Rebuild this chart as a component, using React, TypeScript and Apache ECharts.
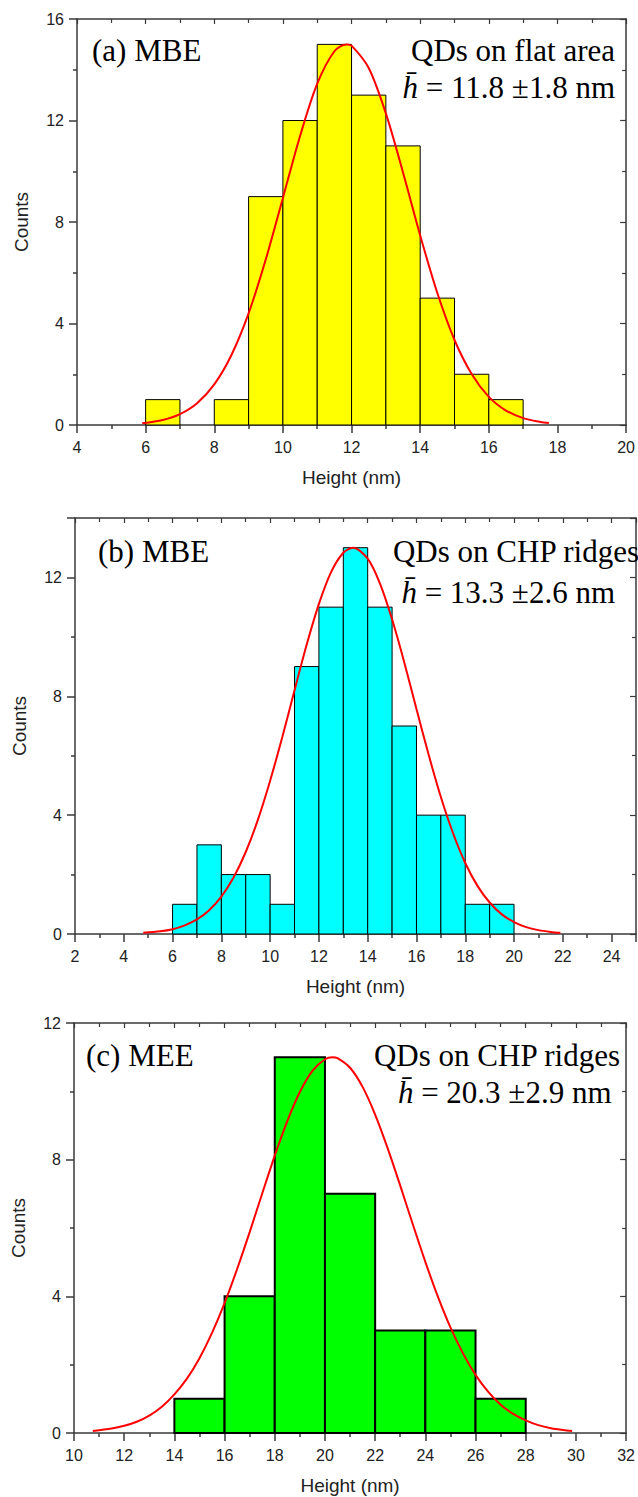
import React, { useEffect, useRef } from "react";
import * as echarts from "echarts";

// ---------- data ----------
// (a) MBE, QDs on flat area (bin width 1 nm)
const aBinStarts = [6, 7, 8, 9, 10, 11, 12, 13, 14, 15, 16];
const aCounts = [1, 0, 1, 9, 12, 15, 13, 11, 5, 2, 1];
const aBinWidth = 1;
const aFitX = [5.9, 6.5, 7, 7.5, 8, 8.5, 9, 9.5, 10, 10.5, 11, 11.5, 11.85, 12, 12.5, 13, 13.5, 14, 14.5, 15, 15.5, 16, 16.5, 17, 17.5, 17.75];
const aFitY = [0.07, 0.2, 0.43, 0.86, 1.6, 2.76, 4.4, 6.52, 8.95, 11.39, 13.45, 14.73, 15, 14.95, 14.07, 12.28, 9.95, 7.47, 5.2, 3.35, 2.01, 1.11, 0.57, 0.27, 0.12, 0.08];

// (b) MBE, QDs on CHP ridges (bin width 1 nm)
const bBinStarts = [6, 7, 8, 9, 10, 11, 12, 13, 14, 15, 16, 17, 18, 19];
const bCounts = [1, 3, 2, 2, 1, 9, 11, 13, 11, 7, 4, 4, 1, 1];
const bBinWidth = 1;
const bFitX = [4.8, 5.5, 6, 6.5, 7, 7.5, 8, 8.5, 9, 9.5, 10, 10.5, 11, 11.5, 12, 12.5, 13, 13.4, 14, 14.5, 15, 15.5, 16, 16.5, 17, 17.5, 18, 18.5, 19, 19.5, 20, 20.5, 21, 21.5, 21.9];
const bFitY = [0.04, 0.09, 0.16, 0.29, 0.49, 0.8, 1.26, 1.9, 2.76, 3.85, 5.16, 6.63, 8.2, 9.74, 11.11, 12.18, 12.83, 13, 12.63, 11.8, 10.59, 9.14, 7.57, 6.03, 4.61, 3.39, 2.39, 1.62, 1.06, 0.66, 0.4, 0.23, 0.13, 0.07, 0.04];

// (c) MEE, QDs on CHP ridges (bin width 2 nm)
const cBinStarts = [14, 16, 18, 20, 22, 24, 26];
const cCounts = [1, 4, 11, 7, 3, 3, 1];
const cBinWidth = 2;
const cFitX = [10.75, 11.5, 12, 12.5, 13, 13.5, 14, 14.5, 15, 15.5, 16, 16.5, 17, 17.5, 18, 18.5, 19, 19.5, 20, 20.3, 20.5, 21, 21.5, 22, 22.5, 23, 23.5, 24, 24.5, 25, 25.5, 26, 26.5, 27, 27.5, 28, 28.5, 29, 29.5, 29.85];
const cFitY = [0.06, 0.13, 0.21, 0.33, 0.51, 0.77, 1.13, 1.59, 2.19, 2.93, 3.8, 4.8, 5.88, 7.01, 8.12, 9.13, 9.98, 10.6, 10.94, 11, 10.97, 10.69, 10.13, 9.32, 8.33, 7.24, 6.11, 5.01, 3.99, 3.09, 2.33, 1.7, 1.21, 0.83, 0.56, 0.37, 0.23, 0.14, 0.085, 0.06];

// axis ranges
const aX = { min: 4, max: 20, interval: 2 };
const aY = { min: 0, max: 16, interval: 4 };
const bX = { min: 2, max: 25, interval: 2 };
const bY = { min: 0, max: 14, interval: 4 };
const cX = { min: 10, max: 32, interval: 2 };
const cY = { min: 0, max: 12, interval: 4 };

// texts
const aTexts = ["(a) MBE", "QDs on flat area", "11.8 ±1.8 nm"];
const bTexts = ["(b) MBE", "QDs on CHP ridges", "13.3 ±2.6 nm"];
const cTexts = ["(c) MEE", "QDs on CHP ridges", "20.3 ±2.9 nm"];
const xTitle = "Height (nm)";
const yTitle = "Counts";

// ---------- helpers ----------
const AXIS_COLOR = "#3a3a3a";
const LABEL_COLOR = "#222";
const SANS = "Liberation Sans, Arial, sans-serif";
const SERIF = "Liberation Serif, Times New Roman, serif";
const NOTE_SIZE = 31;

function binData(starts: number[], counts: number[], w: number) {
  return starts
    .map((s, i) => [s, s + w, counts[i]])
    .filter((d) => d[2] > 0);
}

function fitData(xs: number[], ys: number[]) {
  return xs.map((x, i) => [x, ys[i]]);
}

function mainX(idx: number, r: any, hideMax: boolean) {
  return {
    type: "value",
    gridIndex: idx,
    position: "bottom",
    min: r.min,
    max: r.max,
    interval: r.interval,
    name: xTitle,
    nameLocation: "middle",
    nameGap: 43,
    nameTextStyle: { fontFamily: SANS, fontSize: 19, color: LABEL_COLOR },
    axisLine: { show: true, onZero: false, lineStyle: { color: AXIS_COLOR, width: 1.5 } },
    axisTick: { show: true, inside: false, length: 8, lineStyle: { color: AXIS_COLOR, width: 1.5 } },
    minorTick: { show: true, splitNumber: 2, length: 4, lineStyle: { color: AXIS_COLOR, width: 1.5 } },
    axisLabel: {
      show: true,
      margin: 14,
      fontFamily: SANS,
      fontSize: 16,
      color: LABEL_COLOR,
      showMaxLabel: !hideMax,
      showMinLabel: true,
    },
    splitLine: { show: false },
  };
}

function mirrorX(idx: number, r: any) {
  return {
    type: "value",
    gridIndex: idx,
    position: "top",
    min: r.min,
    max: r.max,
    interval: r.interval,
    axisLine: { show: true, onZero: false, lineStyle: { color: AXIS_COLOR, width: 1.5 } },
    axisTick: { show: true, inside: true, length: 5, lineStyle: { color: AXIS_COLOR, width: 1.2 } },
    minorTick: { show: true, splitNumber: 2, length: 4, lineStyle: { color: AXIS_COLOR, width: 1.2 } },
    axisLabel: { show: false },
    splitLine: { show: false },
  };
}

function mainY(idx: number, r: any, hideMax: boolean) {
  return {
    type: "value",
    gridIndex: idx,
    position: "left",
    min: r.min,
    max: r.max,
    interval: r.interval,
    name: yTitle,
    nameLocation: "middle",
    nameGap: 46,
    nameRotate: 90,
    nameTextStyle: { fontFamily: SANS, fontSize: 19, color: LABEL_COLOR },
    axisLine: { show: true, onZero: false, lineStyle: { color: AXIS_COLOR, width: 1.5 } },
    axisTick: { show: true, inside: false, length: 8, lineStyle: { color: AXIS_COLOR, width: 1.5 } },
    minorTick: { show: true, splitNumber: 2, length: 4, lineStyle: { color: AXIS_COLOR, width: 1.5 } },
    axisLabel: {
      show: true,
      margin: 13,
      fontFamily: SANS,
      fontSize: 16,
      color: LABEL_COLOR,
      showMaxLabel: !hideMax,
    },
    splitLine: { show: false },
  };
}

function mirrorY(idx: number, r: any) {
  return {
    type: "value",
    gridIndex: idx,
    position: "right",
    min: r.min,
    max: r.max,
    interval: r.interval,
    axisLine: { show: true, onZero: false, lineStyle: { color: AXIS_COLOR, width: 1.5 } },
    axisTick: { show: true, inside: true, length: 6, lineStyle: { color: AXIS_COLOR, width: 1.2 } },
    minorTick: { show: true, splitNumber: 2, length: 4, lineStyle: { color: AXIS_COLOR, width: 1.2 } },
    axisLabel: { show: false },
    splitLine: { show: false },
  };
}

function histSeries(idx: number, data: number[][], fill: string, lw: number) {
  return {
    type: "custom",
    xAxisIndex: idx * 2,
    yAxisIndex: idx * 2,
    data,
    encode: { x: [0, 1], y: 2 },
    z: 2,
    renderItem: (params: any, api: any) => {
      const x0 = api.value(0);
      const x1 = api.value(1);
      const c = api.value(2);
      const p0 = api.coord([x0, c]);
      const p1 = api.coord([x1, 0]);
      return {
        type: "rect",
        shape: { x: p0[0], y: p0[1], width: p1[0] - p0[0], height: p1[1] - p0[1] },
        style: { fill, stroke: "#000", lineWidth: lw },
      };
    },
  };
}

function fitSeries(idx: number, data: number[][]) {
  return {
    type: "line",
    xAxisIndex: idx * 2,
    yAxisIndex: idx * 2,
    data,
    smooth: 0.3,
    showSymbol: false,
    symbol: "none",
    z: 5,
    lineStyle: { color: "#ff0000", width: 2 },
    silent: true,
  };
}

function panelTexts(t: string[], leftX: number, rightX1: number, rightX2: number, y1: number, y2: number) {
  const font = { fontFamily: SERIF, fontSize: NOTE_SIZE, fill: "#000" };
  return [
    {
      type: "text",
      z: 10,
      style: { text: t[0], x: leftX, y: y1, textAlign: "left", textVerticalAlign: "middle", ...font },
    },
    {
      type: "text",
      z: 10,
      style: { text: t[1], x: rightX1, y: y1, textAlign: "right", textVerticalAlign: "middle", ...font },
    },
    {
      type: "text",
      z: 10,
      style: {
        text: "{i|h\u0304} = " + t[2],
        x: rightX2,
        y: y2,
        textAlign: "right",
        textVerticalAlign: "middle",
        rich: { i: { fontStyle: "italic", fontFamily: SERIF, fontSize: NOTE_SIZE, color: "#000" } },
        ...font,
      },
    },
  ];
}

export default function App() {
  const ref = useRef<HTMLDivElement>(null);

  useEffect(() => {
    document.body.style.margin = "0";
    if (!ref.current) return;
    const chart = echarts.init(ref.current, undefined, { renderer: "svg" });

    const option: any = {
      animation: false,
      backgroundColor: "#fff",
      grid: [
        { left: 77, top: 19, width: 550, height: 406 },
        { left: 75, top: 518, width: 561, height: 416 },
        { left: 74, top: 1023, width: 554, height: 410 },
      ],
      xAxis: [
        mainX(0, aX, false),
        mirrorX(0, aX),
        mainX(1, bX, true),
        mirrorX(1, bX),
        mainX(2, cX, false),
        mirrorX(2, cX),
      ],
      yAxis: [
        mainY(0, aY, false),
        mirrorY(0, aY),
        mainY(1, bY, true),
        mirrorY(1, bY),
        mainY(2, cY, false),
        mirrorY(2, cY),
      ],
      series: [
        histSeries(0, binData(aBinStarts, aCounts, aBinWidth), "#ffff00", 1),
        fitSeries(0, fitData(aFitX, aFitY)),
        histSeries(1, binData(bBinStarts, bCounts, bBinWidth), "#00ffff", 1),
        fitSeries(1, fitData(bFitX, bFitY)),
        histSeries(2, binData(cBinStarts, cCounts, cBinWidth), "#00ff00", 2),
        fitSeries(2, fitData(cFitX, cFitY)),
      ],
      graphic: [
        ...panelTexts(aTexts, 92, 615, 615, 50.5, 87.5),
        ...panelTexts(bTexts, 98, 639, 615, 551.5, 592.5),
        ...panelTexts(cTexts, 86, 620, 611.5, 1055.5, 1092.5),
      ],
    };

    chart.setOption(option);
    return () => chart.dispose();
  }, []);

  return <div ref={ref} style={{ width: 638, height: 1497 }} />;
}
